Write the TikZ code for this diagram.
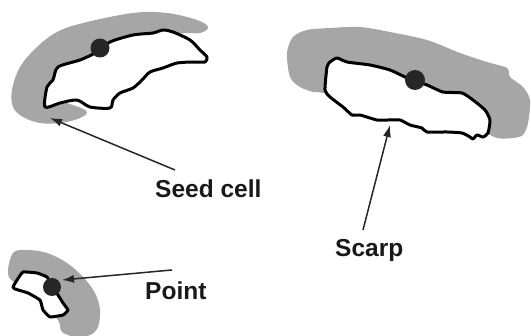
\documentclass[tikz,border=0pt]{standalone}
\usepackage{fontspec}
\setmainfont{Liberation Sans}
\usetikzlibrary{arrows.meta}
\definecolor{shade}{RGB}{166,166,166}
\tikzset{
  halo/.style={fill=shade,draw=none},
  cell/.style={draw=black,fill=white,line width=3pt,line join=round},
  seed/.style={fill=black!85,draw=none},
  lbl/.style={font=\fontsize{24.5}{28}\selectfont\bfseries,text=black!90,inner sep=0pt},
  pointer/.style={line width=1.5pt,black!85,-{Latex[length=12pt,width=8pt]}}
}
\begin{document}
\begin{tikzpicture}[x=1pt,y=-1pt]
\useasboundingbox (0,0) rectangle (531,336);
% ---- shape 1 (top-left) ----
\fill[halo] plot[smooth cycle,tension=0.6] coordinates{
 (83,23) (133,13) (167,13) (197,20) (208,27) (200,33) (177,34) (120,45) (80,62) (58,75) (50,95) (85,110)
 (80,118) (60,123) (40,123) (23,117) (13,107) (12,90) (20,67) (37,47) (57,32)};
\draw[cell] plot[smooth cycle,tension=0.45] coordinates{
 (45,107) (47,87) (53,80) (58,67) (80,60) (95,53) (110,42) (133,35) (153,33) (163,30) (173,32)
 (190,40) (200,50) (207,57) (205,62) (193,62) (177,63) (163,68) (150,72) (142,80) (133,88)
 (120,93) (113,100) (110,108) (90,107) (77,100) (60,103)};
\fill[seed] (100,48) circle (9.5);
% ---- shape 2 (top-right) ----
\fill[halo] plot[smooth cycle,tension=0.5] coordinates{
 (293,37) (307,30) (330,28) (360,27) (390,32) (427,40) (460,53) (487,62) (507,68) (510,77)
 (523,87) (530,100) (528,123) (523,135) (513,138) (497,138) (480,130) (440,115) (380,105)
 (323,93) (313,92) (300,87) (290,77) (287,53)};
\draw[cell] plot[smooth cycle,tension=0.35] coordinates{
 (327,67) (330,62) (337,58) (347,62) (370,65) (390,70) (405,77) (415,81) (427,85) (443,92) (462,93)
 (473,100) (485,110) (490,120) (488,133) (483,137) (477,135) (473,139) (470,137) (462,133)
 (447,132) (427,132) (422,128) (410,125) (400,120) (388,120) (377,120) (360,115) (352,115)
 (343,107) (330,97) (325,90)};
\fill[seed] (415,80) circle (10);
% ---- shape 3 (bottom-left) ----
\fill[halo] plot[smooth cycle,tension=0.6] coordinates{
 (13,253) (27,250) (47,253) (67,263) (83,277) (95,293) (100,310) (98,327) (90,335) (77,337)
 (62,332) (58,320) (40,300) (15,283) (8,273)};
\draw[cell] plot[smooth cycle,tension=0.2] coordinates{
 (13,287) (17,280) (23,272) (37,273) (47,277) (52,287) (58,295) (63,303) (68,310) (63,315)
 (50,317) (43,310) (40,300) (28,293) (15,289)};
\fill[seed] (52,287) circle (9);
% ---- labels ----
\node[lbl,anchor=base west] (seedlbl) at (155,198) {Seed cell};
\node[lbl,anchor=base west] (scarplbl) at (335,257) {Scarp};
\node[lbl,anchor=base west] (pointlbl) at (145,300) {Point};
% ---- arrows ----
\coordinate (seedtail) at (175,170);
\coordinate (seedtip) at (50,118);
\coordinate (scarptail) at (363,230);
\coordinate (scarptip) at (390,125);
\coordinate (pointtail) at (172,270);
\coordinate (pointtip) at (62,280);
\draw[pointer] (seedtail) -- (seedtip);
\draw[pointer] (scarptail) -- (scarptip);
\draw[pointer] (pointtail) -- (pointtip);
\end{tikzpicture}
\end{document}
